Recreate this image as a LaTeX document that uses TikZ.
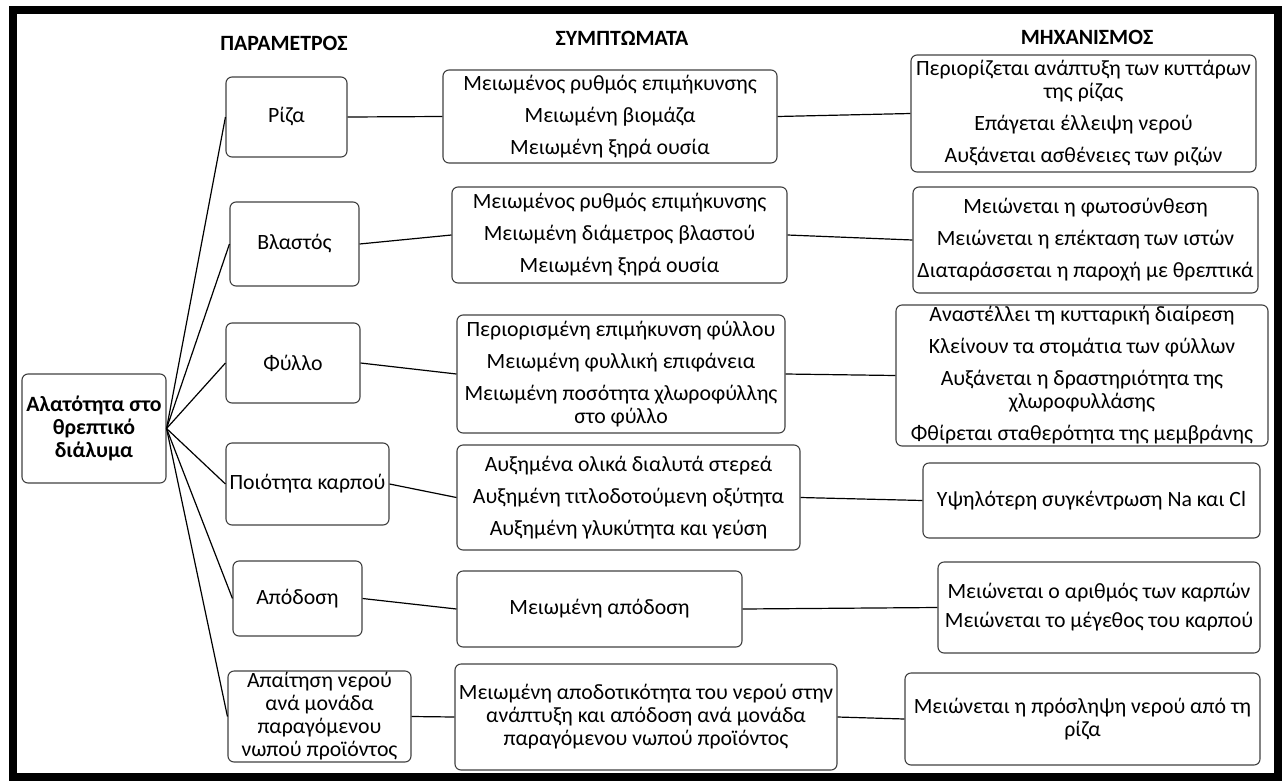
\documentclass[tikz,border=0pt]{standalone}
\usepackage{fontspec}
\setmainfont{Carlito}

\begin{document}
\begin{tikzpicture}[x=1pt,y=-1pt,
    every node/.style={font=\fontsize{21.8}{23}\selectfont},
    blok/.style={draw=black!75, line width=1.1pt, rounded corners=6pt, align=center, inner sep=1pt},
    kop/.style={font=\fontsize{21.8}{24}\selectfont\bfseries},
    lijn/.style={line width=1.2pt}]
\useasboundingbox (0,0) rectangle (1283,780);
\draw[line width=8pt] (12.5,10) rectangle (1278,777);

\node[kop] (kp) at (284,43) {ΠΑΡΑΜΕΤΡΟΣ};
\node[kop] (ks) at (622,38) {ΣΥΜΠΤΩΜΑΤΑ};
\node[kop] (km) at (1087,37) {ΜΗΧΑΝΙΣΜΟΣ};

\node[blok, font=\fontsize{21.8}{23}\selectfont\bfseries, minimum width=144pt, minimum height=109pt] (alat) at (94,428.5) {Αλατότητα στο\\θρεπτικό\\διάλυμα};

\node[blok, minimum width=121pt, minimum height=80pt] (p1) at (286.5,117) {Ρίζα};
\node[blok, minimum width=129pt, minimum height=84pt] (p2) at (294.5,244) {Βλαστός};
\node[blok, minimum width=134pt, minimum height=80pt] (p3) at (293,363) {Φύλλο};
\node[blok, minimum width=163pt, minimum height=82pt] (p4) at (307.5,484) {Ποιότητα καρπού};
\node[blok, minimum width=129pt, minimum height=75pt] (p5) at (297.5,598.5) {Απόδοση};
\node[blok, minimum width=183pt, minimum height=91pt] (p6) at (319.5,716.5) {Απαίτηση νερού\\ανά μονάδα\\παραγόμενου\\νωπού προϊόντος};

\node[blok, minimum width=334pt, minimum height=93pt] (s1) at (610,116.5) {Μειωμένος ρυθμός επιμήκυνσης\\[9pt]Μειωμένη βιομάζα\\[9pt]Μειωμένη ξηρά ουσία};
\node[blok, minimum width=335pt, minimum height=96pt] (s2) at (619.5,235) {Μειωμένος ρυθμός επιμήκυνσης\\[9pt]Μειωμένη διάμετρος βλαστού\\[9pt]Μειωμένη ξηρά ουσία};
\node[blok, minimum width=328pt, minimum height=118pt] (s3) at (621,374) {Περιορισμένη επιμήκυνση φύλλου\\[9pt]Μειωμένη φυλλική επιφάνεια\\[9pt]Μειωμένη ποσότητα χλωροφύλλης\\στο φύλλο};
\node[blok, minimum width=343pt, minimum height=105pt] (s4) at (628.5,497.5) {Αυξημένα ολικά διαλυτά στερεά\\[9pt]Αυξημένη τιτλοδοτούμενη οξύτητα\\[9pt]Αυξημένη γλυκύτητα και γεύση};
\node[blok, minimum width=285pt, minimum height=76pt] (s5) at (599.5,609) {Μειωμένη απόδοση};
\node[blok, minimum width=382pt, minimum height=106pt] (s6) at (646,717) {Μειωμένη αποδοτικότητα του νερού στην\\ανάπτυξη και απόδοση ανά μονάδα\\παραγόμενου νωπού προϊόντος};

\node[blok, minimum width=345pt, minimum height=117pt] (m1) at (1083.5,113.5) {Περιορίζεται ανάπτυξη των κυττάρων\\της ρίζας\\[9pt]Επάγεται έλλειψη νερού\\[9pt]Αυξάνεται ασθένειες των ριζών};
\node[blok, minimum width=345pt, minimum height=106pt] (m2) at (1085.5,240) {Μειώνεται η φωτοσύνθεση\\[9pt]Μειώνεται η επέκταση των ιστών\\[9pt]Διαταράσσεται η παροχή με θρεπτικά};
\node[blok, minimum width=372pt, minimum height=141pt] (m3) at (1082,375.5) {Αναστέλλει τη κυτταρική διαίρεση\\[9pt]Κλείνουν τα στομάτια των φύλλων\\[9pt]Αυξάνεται η δραστηριότητα της\\χλωροφυλλάσης\\[9pt]Φθίρεται σταθερότητα της μεμβράνης};
\node[blok, minimum width=337pt, minimum height=75pt] (m4) at (1091.5,500.5) {Υψηλότερη συγκέντρωση Na και Cl};
\node[blok, minimum width=322pt, minimum height=91pt] (m5) at (1099,607.5) {Μειώνεται ο αριθμός των καρπών\\[6pt]Μειώνεται το μέγεθος του καρπού};
\node[blok, minimum width=355pt, minimum height=92pt] (m6) at (1082.5,719) {Μειώνεται η πρόσληψη νερού από τη\\ρίζα};

\draw[lijn] (alat.east) -- (p1.west);
\draw[lijn] (alat.east) -- (p2.west);
\draw[lijn] (alat.east) -- (p3.west);
\draw[lijn] (alat.east) -- (p4.west);
\draw[lijn] (alat.east) -- (p5.west);
\draw[lijn] (alat.east) -- (p6.west);
\draw[lijn] (p1.east) -- (s1.west) (s1.east) -- (m1.west);
\draw[lijn] (p2.east) -- (s2.west) (s2.east) -- (m2.west);
\draw[lijn] (p3.east) -- (s3.west) (s3.east) -- (m3.west);
\draw[lijn] (p4.east) -- (s4.west) (s4.east) -- (m4.west);
\draw[lijn] (p5.east) -- (s5.west) (s5.east) -- (m5.west);
\draw[lijn] (p6.east) -- (s6.west) (s6.east) -- (m6.west);
\end{tikzpicture}
\end{document}
